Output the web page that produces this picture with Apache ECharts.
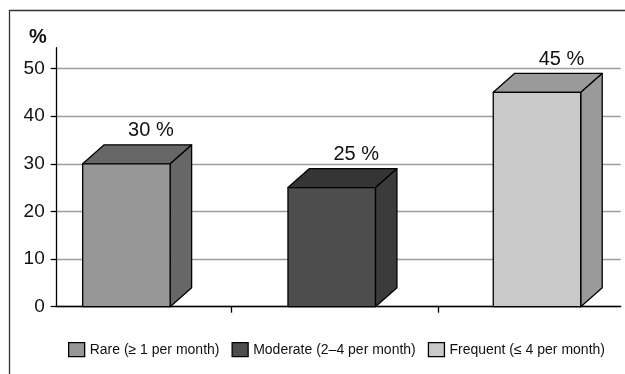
<!DOCTYPE html>
<html>
<head>
<meta charset="utf-8">
<script src="https://cdn.jsdelivr.net/npm/echarts@6/dist/echarts.min.js"></script>
<style>
  html, body { margin: 0; padding: 0; background: #ffffff; }
  #chart { width: 625px; height: 374px; }
</style>
</head>
<body>
<div id="chart"></div>
<script>
// Frequency groups and their shares (%)
const categories = ['Rare (≥ 1 per month)', 'Moderate (2–4 per month)', 'Frequent (≤ 4 per month)'];
const values = [30, 25, 45];
const yTicks = [0, 10, 20, 30, 40, 50];
// Separator ticks on the floor line, in slot units (slot i holds box i)
const floorTicks = [0.51, 1.52, 2.408];

// Box shading: front face, top face, side face
const frontColors = ['#979797', '#4d4d4d', '#c9c9c9'];
const topColors = ['#676767', '#353535', '#9a9a9a'];
const sideColors = ['#676767', '#3b3b3b', '#9a9a9a'];

const FONT = '"Liberation Sans", Arial, sans-serif';
const BOX_W = 0.426;   // front face width in slot units
const DX = 21.5;       // depth offset, px
const DY = 19;

function renderBox(params, api) {
  const i = api.value(0);
  const v = api.value(1);
  const s = params.seriesIndex;
  const tl = api.coord([i - BOX_W / 2, v]);
  const br = api.coord([i + BOX_W / 2, 0]);
  const x0 = tl[0], x1 = br[0], yT = tl[1], yB = br[1];
  const edge = { stroke: '#000', lineWidth: 1.3, lineJoin: 'round' };
  return {
    type: 'group',
    children: [
      { type: 'polygon',
        shape: { points: [[x1, yB], [x1 + DX, yB - DY], [x1 + DX, yT - DY], [x1, yT]] },
        style: Object.assign({ fill: sideColors[s] }, edge) },
      { type: 'polygon',
        shape: { points: [[x0, yT], [x0 + DX, yT - DY], [x1 + DX, yT - DY], [x1, yT]] },
        style: Object.assign({ fill: topColors[s] }, edge) },
      { type: 'rect',
        shape: { x: x0, y: yT, width: x1 - x0, height: yB - yT },
        style: Object.assign({ fill: frontColors[s] }, edge) },
      { type: 'text',
        x: (x0 + x1) / 2 + DX + 3,
        y: yT - DY - 4,
        style: { text: v + ' %', fill: '#111', font: '20px ' + FONT,
                 align: 'center', verticalAlign: 'bottom' } }
    ]
  };
}

const series = categories.map((name, idx) => ({
  name: name,
  type: 'custom',
  clip: false,
  renderItem: renderBox,
  itemStyle: { color: frontColors[idx], borderColor: '#000', borderWidth: 1.3 },
  encode: { x: 0, y: 1 },
  data: [[idx, values[idx]]]
}));

const chart = echarts.init(document.getElementById('chart'), null, { renderer: 'canvas' });
chart.setOption({
  animation: false,
  backgroundColor: '#ffffff',
  grid: { left: 56.7, right: 4.3, top: 47.7, bottom: 67.3, containLabel: false },
  xAxis: {
    type: 'value',
    min: -0.3395,
    max: 2.4077,
    axisLine: { show: true, onZero: false, lineStyle: { color: '#000', width: 1.3 } },
    axisTick: { show: true, inside: false, length: 6, customValues: floorTicks,
                lineStyle: { color: '#000', width: 1.3 } },
    axisLabel: { show: false },
    splitLine: { show: false }
  },
  yAxis: {
    type: 'value',
    min: 0,
    max: 54.37,
    interval: 10,
    name: '%',
    nameLocation: 'end',
    nameGap: 0,
    nameTextStyle: { fontFamily: FONT, fontSize: 20, fontWeight: 'bold', color: '#111',
                     align: 'right', verticalAlign: 'bottom', padding: [0, 10, 0, 0] },
    axisLine: { show: true, onZero: false, lineStyle: { color: '#000', width: 1.3 } },
    axisTick: { show: true, inside: false, length: 6, customValues: yTicks,
                lineStyle: { color: '#000', width: 1.3 } },
    axisLabel: { customValues: yTicks, margin: 12, fontFamily: FONT, fontSize: 19, color: '#111' },
    splitLine: { show: true, lineStyle: { color: '#9c9c9c', width: 1.3 } }
  },
  legend: {
    data: categories,
    left: 63,
    top: 337,
    icon: 'rect',
    itemWidth: 16,
    itemHeight: 14,
    itemGap: 12,
    selectedMode: false,
    itemStyle: { borderColor: '#000', borderWidth: 1.3 },
    textStyle: { fontFamily: FONT, fontSize: 14, color: '#111', lineHeight: 14 }
  },
  graphic: [
    { type: 'rect', silent: true, z: -1,
      shape: { x: 9.5, y: 10.5, width: 700, height: 500 },
      style: { fill: 'none', stroke: '#333', lineWidth: 1.3 } }
  ],
  series: series
});
</script>
</body>
</html>
